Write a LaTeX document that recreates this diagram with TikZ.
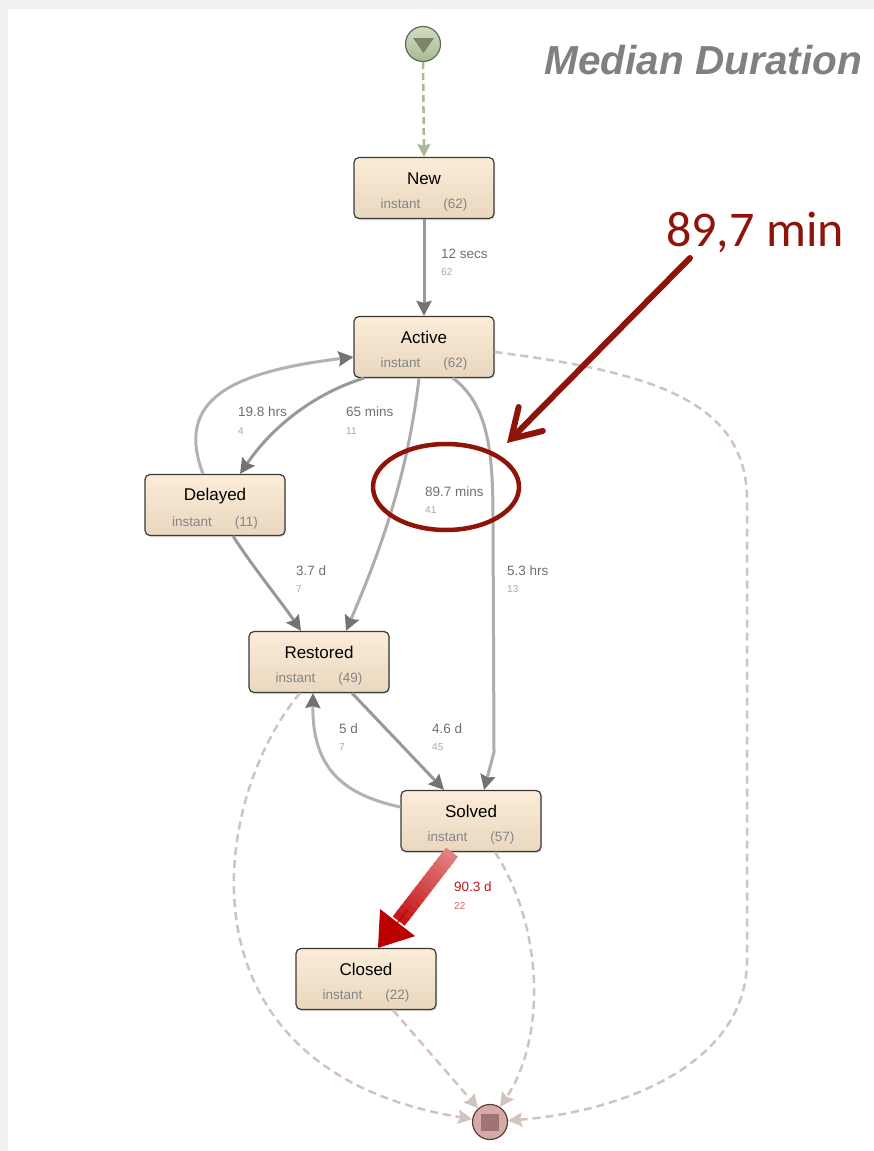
\documentclass[tikz,border=0pt]{standalone}
\usepackage{fontspec}
\setmainfont{Liberation Sans}
\newfontfamily\calib{Carlito}
\usetikzlibrary{arrows.meta,calc,shadows,shapes.geometric}
\definecolor{boxtop}{HTML}{FCEDD9}
\definecolor{boxbot}{HTML}{E9D7BE}
\definecolor{boxline}{HTML}{3A3A3A}
\definecolor{edgegray}{HTML}{999999}
\definecolor{tipgray}{HTML}{767272}
\definecolor{dashend}{HTML}{D2C3BE}
\definecolor{dashstart}{HTML}{A9B998}
\definecolor{lbltime}{HTML}{707070}
\definecolor{lblinst}{HTML}{858585}
\definecolor{lblcount}{HTML}{A8A8A8}
\definecolor{annot}{HTML}{8E1409}
\definecolor{redlbl}{HTML}{B51E1E}
\definecolor{redcnt}{HTML}{D06060}
\definecolor{starttop}{HTML}{D2DDC3}
\definecolor{startbot}{HTML}{A9B994}
\definecolor{startline}{HTML}{5F6B50}
\definecolor{starttri}{HTML}{7A8666}
\definecolor{endfill}{HTML}{D4AAA6}
\definecolor{endline}{HTML}{5E3C3C}
\definecolor{endsq}{HTML}{A07474}
\definecolor{heavylight}{HTML}{E38080}
\definecolor{heavydark}{HTML}{C41818}
\definecolor{heavytip}{HTML}{BB0000}
\tikzset{
  state/.style={rectangle, rounded corners=5pt, draw=boxline, line width=1.2pt,
    top color=boxtop, bottom color=boxbot, minimum width=140pt, minimum height=61pt,
    inner sep=0pt, align=center,
    drop shadow={shadow xshift=1pt, shadow yshift=-1.5pt, opacity=0.25}},
  flow/.style={draw=edgegray, line width=3pt,
    -{Stealth[length=15pt,width=15pt,inset=2pt,color=tipgray]}},
  toend/.style={draw=dashend, line width=2.5pt, dash pattern=on 8pt off 5pt,
    -{Stealth[length=14pt,width=14pt,inset=2pt,color=dashend]}},
  tl/.style={anchor=west, inner sep=0pt, text=lbltime, font=\fontsize{13.5}{16}\selectfont},
  cl/.style={anchor=west, inner sep=0pt, text=lblcount, font=\fontsize{10}{12}\selectfont},
}
\newcommand{\stlabel}[2]{{\fontsize{17}{20}\selectfont\rule{0pt}{20pt}#1}\\[12pt]{\fontsize{13.5}{16}\selectfont\color{lblinst}instant\hspace{23pt}(#2)}}
\begin{document}
\begin{tikzpicture}[x=1pt,y=-1pt]
\useasboundingbox (0,0) rectangle (874,1151);
% background
\fill[color=black!6] (0,0) rectangle (874,1151);
\fill[white] (8,9) rectangle (874,1151);
% title and annotation
\node[anchor=base east, inner sep=0pt, text=black!50, font=\fontsize{40.5}{46}\selectfont\bfseries\itshape] (title) at (862,74) {Median Duration};
\node[anchor=base west, inner sep=0pt, text=annot, font=\calib\fontsize{50}{56}\selectfont] (note) at (666,246) {89,7 min};
% start / end
\node[circle, draw=startline, line width=1.2pt, top color=starttop, bottom color=startbot, minimum size=35pt, inner sep=0pt] (start) at (423,44) {};
\fill[color=starttri] (413,38) -- (434,38) -- (423.5,53) -- cycle;
\node[circle, draw=endline, line width=1.2pt, fill=endfill, minimum size=35pt, inner sep=0pt] (end) at (490,1122) {};
\fill[color=endsq] (481,1114) rectangle (499,1131);
% states
\node[state] (new) at (424,188) {\stlabel{New}{62}};
\node[state] (active) at (424,347) {\stlabel{Active}{62}};
\node[state] (delayed) at (215,505) {\stlabel{Delayed}{11}};
\node[state] (restored) at (319,662) {\stlabel{Restored}{49}};
\node[state] (solved) at (471,821) {\stlabel{Solved}{57}};
\node[state] (closed) at (366,979) {\stlabel{Closed}{22}};
% dashed edges
\draw[draw=dashstart, line width=2.5pt, dash pattern=on 7pt off 4pt,
  -{Stealth[length=13pt,width=13pt,inset=2pt,color=dashstart]}] (start.south) -- (new.north);
\draw[toend] ([yshift=-5pt]active.east) .. controls (650,372) and (747,400) .. (747,500) -- (747,960) .. controls (747,1065) and (620,1112) .. (end);
\draw[toend] ([xshift=-19pt]restored.south) .. controls (210,800) and (170,1070) .. (end);
\draw[toend] ([xshift=24pt]solved.south) .. controls (545,930) and (545,1040) .. (end);
\draw[toend] ([xshift=27pt]closed.south) -- (end);
% solid edges
\draw[flow] (new.south) -- (active.north);
\draw[flow] ([xshift=-60pt]active.south) .. controls (310,395) and (270,430) .. ([xshift=25pt]delayed.north);
\draw[flow, draw=edgegray!75] ([xshift=-12pt]delayed.north) .. controls (175,400) and (230,372) .. ([yshift=-10pt]active.west);
\draw[flow, draw=edgegray!80] ([xshift=-5pt]active.south) .. controls (408,470) and (385,540) .. ([xshift=27pt]restored.north);
\draw[flow, draw=edgegray!80] ([xshift=29pt]active.south) .. controls (488,405) and (493,450) .. (493,520) -- (494,752) -- ([xshift=13pt]solved.north);
\draw[flow] ([xshift=18pt]delayed.south) .. controls (255,570) and (280,600) .. ([xshift=-18pt]restored.north);
\draw[flow] ([xshift=33pt]restored.south) -- ([xshift=-27pt]solved.north);
\draw[flow, draw=edgegray!75] ([yshift=14pt]solved.west) .. controls (345,795) and (312,770) .. ([xshift=-6pt]restored.south);
% heavy red edge (graded)
\coordinate (hA) at ([xshift=-19pt]solved.south);
\coordinate (hB) at ([xshift=12pt]closed.north);
\foreach \i in {0,...,13} {
  \pgfmathsetmacro{\p}{100*\i/13}
  \draw[line width=15pt, draw=heavydark!\p!heavylight] ($(hA)!{\i/20}!(hB)$) -- ($(hA)!{(\i+1.4)/20}!(hB)$);
}
\draw[line width=1pt, draw=heavytip,
  -{Triangle[length=32pt,width=44pt,color=heavytip]}] ($(hA)!0.6!(hB)$) -- (hB);
% edge labels
\node[tl] (l1) at (441,254) {12 secs};   \node[cl] (c1) at (441,272) {62};
\node[tl] (l2) at (238,412) {19.8 hrs};  \node[cl] (c2) at (238,431) {4};
\node[tl] (l3) at (346,412) {65 mins};   \node[cl] (c3) at (346,431) {11};
\node[tl] (l4) at (425,492) {89.7 mins}; \node[cl] (c4) at (425,510) {41};
\node[tl] (l5) at (296,571) {3.7 d};     \node[cl] (c5) at (296,589) {7};
\node[tl] (l6) at (507,571) {5.3 hrs};   \node[cl] (c6) at (507,589) {13};
\node[tl] (l7) at (339,729) {5 d};       \node[cl] (c7) at (339,747) {7};
\node[tl] (l8) at (432,729) {4.6 d};     \node[cl] (c8) at (432,747) {45};
\node[tl, text=redlbl] (l9) at (454,887) {90.3 d}; \node[cl, text=redcnt] (c9) at (454,906) {22};
% annotation ring and arrow
\draw[annot, line width=4.5pt] (446,487) ellipse [x radius=73pt, y radius=43pt];
\coordinate (calloutTail) at (690,258);
\coordinate (calloutTip) at (507,443);
\draw[annot, line width=6pt, line cap=round,
  -{Straight Barb[length=28pt,width=34pt,line cap=round]}] (calloutTail) -- (calloutTip);
\end{tikzpicture}
\end{document}
